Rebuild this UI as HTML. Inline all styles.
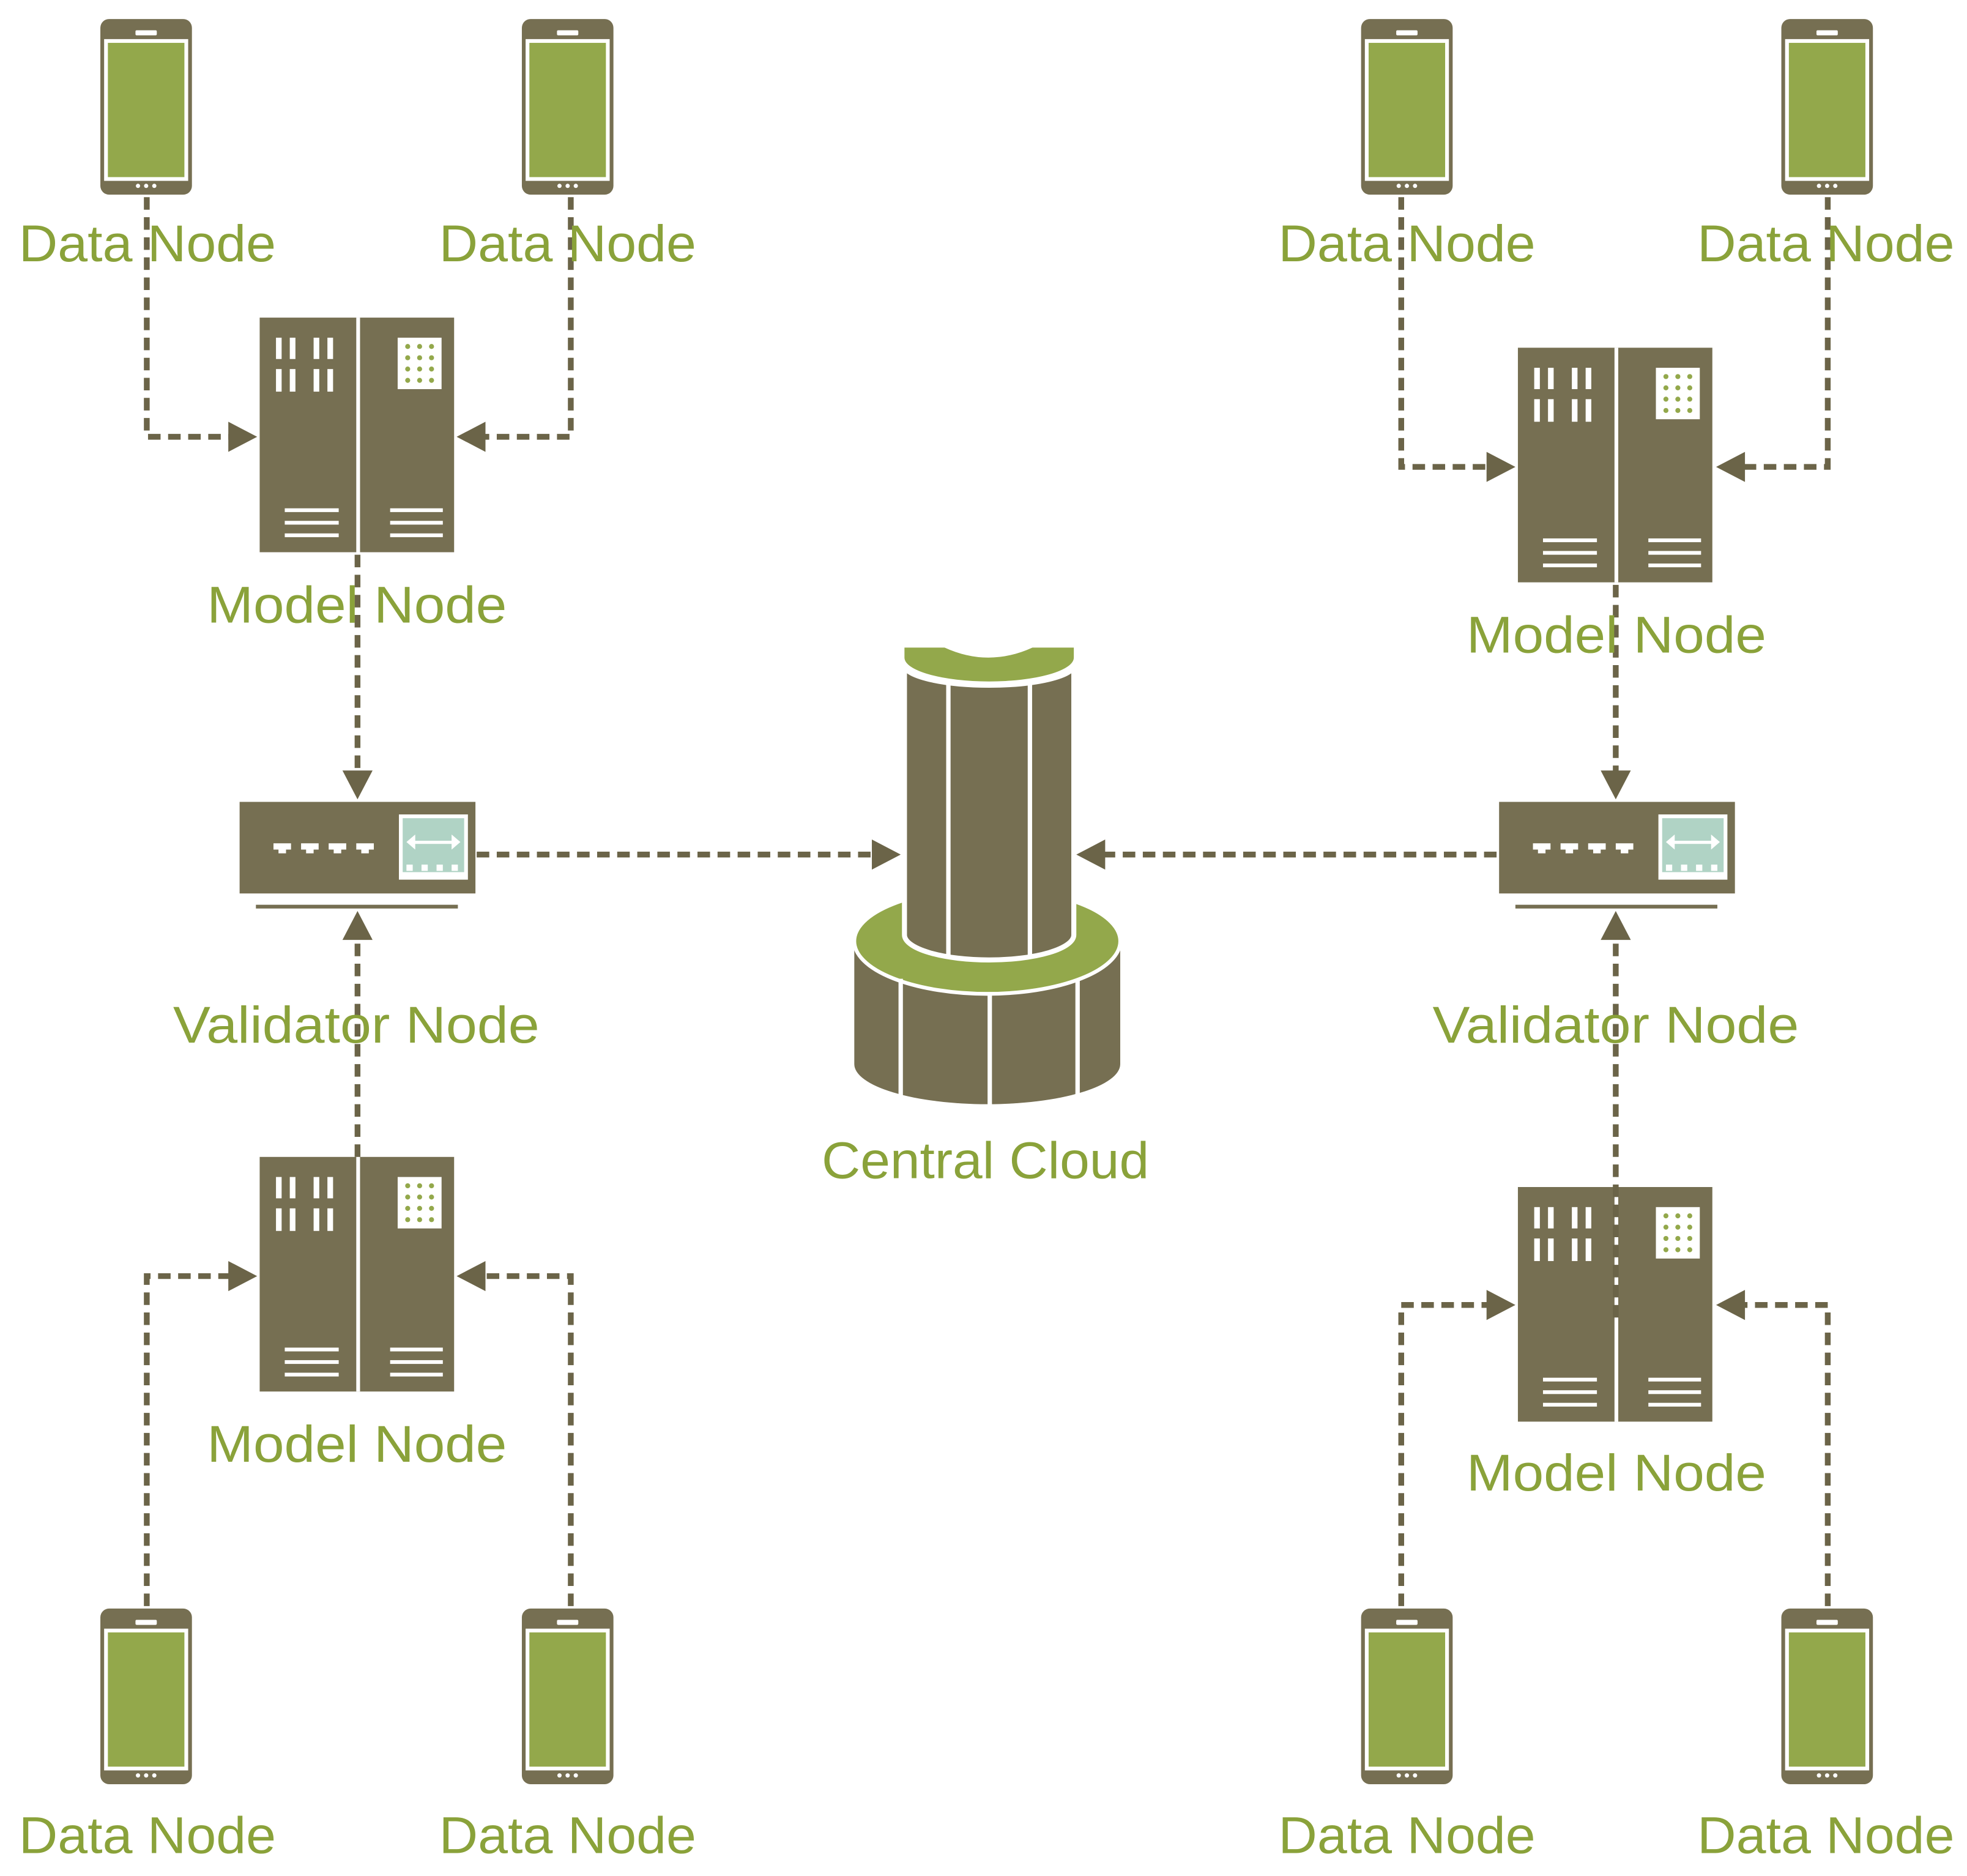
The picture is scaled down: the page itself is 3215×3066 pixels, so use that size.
<!DOCTYPE html>
<html><head><meta charset="utf-8"><style>
html,body{margin:0;padding:0;background:#fff;}
svg{display:block;}
text{font-family:"Liberation Sans",sans-serif;fill:#8aa23a;font-size:41px;}
</style></head><body>
<svg width="3215" height="3066" viewBox="0 0 1568 1495" xmlns="http://www.w3.org/2000/svg">
<defs>
<g id="phone">
<rect x="0" y="0" width="73" height="140" rx="7" fill="#766f52"/>
<rect x="3" y="16" width="67" height="113" fill="#fff"/>
<rect x="6" y="19" width="61" height="107" fill="#93a84b"/>
<rect x="28" y="9" width="17" height="4" rx="1" fill="#fff"/>
<circle cx="30" cy="133" r="1.7" fill="#fff"/><circle cx="36.5" cy="133" r="1.7" fill="#fff"/><circle cx="43" cy="133" r="1.7" fill="#fff"/>
</g>
<g id="server">
<rect x="0" y="0" width="155" height="187" fill="#766f52"/>
<rect x="77" y="0" width="3" height="187" fill="#fff"/>
<g fill="#fff">
<rect x="13" y="16" width="4.5" height="17"/><rect x="24" y="16" width="4.5" height="17"/><rect x="43" y="16" width="4.5" height="17"/><rect x="54" y="16" width="4.5" height="17"/>
<rect x="13" y="41" width="4.5" height="18"/><rect x="24" y="41" width="4.5" height="18"/><rect x="43" y="41" width="4.5" height="18"/><rect x="54" y="41" width="4.5" height="18"/>
<rect x="110" y="16" width="35" height="41"/>
<rect x="20" y="152" width="43" height="3"/><rect x="20" y="162" width="43" height="3"/><rect x="20" y="172" width="43" height="3"/>
<rect x="104" y="152" width="42" height="3"/><rect x="104" y="162" width="42" height="3"/><rect x="104" y="172" width="42" height="3"/>
</g>
<g fill="#93a84b">
<circle cx="118" cy="23" r="2"/><circle cx="127.5" cy="23" r="2"/><circle cx="137" cy="23" r="2"/>
<circle cx="118" cy="32" r="2"/><circle cx="127.5" cy="32" r="2"/><circle cx="137" cy="32" r="2"/>
<circle cx="118" cy="41" r="2"/><circle cx="127.5" cy="41" r="2"/><circle cx="137" cy="41" r="2"/>
<circle cx="118" cy="50" r="2"/><circle cx="127.5" cy="50" r="2"/><circle cx="137" cy="50" r="2"/>
</g>
</g>
<g id="validator">
<rect x="0" y="0" width="188" height="73" fill="#766f52"/>
<rect x="127" y="10" width="55" height="52" fill="#fff"/>
<rect x="130" y="13" width="49" height="43" fill="#b0d3c5"/>
<g fill="#fff">
<rect x="135" y="31" width="39" height="2.5"/>
<polygon points="133,32 140,26 140,38"/><polygon points="176,32 169,26 169,38"/>
<rect x="133" y="50" width="5" height="5"/><rect x="145" y="50" width="5" height="5"/><rect x="157" y="50" width="5" height="5"/><rect x="169" y="50" width="5" height="5"/>
<path d="M27,33 h14 v5 h-4 v3 h-6 v-3 h-4z"/><path d="M49,33 h14 v5 h-4 v3 h-6 v-3 h-4z"/><path d="M71,33 h14 v5 h-4 v3 h-6 v-3 h-4z"/><path d="M93,33 h14 v5 h-4 v3 h-6 v-3 h-4z"/>
</g>
<rect x="13" y="82" width="161" height="3" fill="#766f52"/>
</g>
</defs>

<use href="#phone" x="80" y="15"/><use href="#phone" x="416" y="15"/>
<use href="#phone" x="1085" y="15"/><use href="#phone" x="1420" y="15"/>
<use href="#phone" x="80" y="1282"/><use href="#phone" x="416" y="1282"/>
<use href="#phone" x="1085" y="1282"/><use href="#phone" x="1420" y="1282"/>

<use href="#server" x="207" y="253"/><use href="#server" x="1210" y="277"/>
<use href="#server" x="207" y="922"/><use href="#server" x="1210" y="946"/>

<use href="#validator" x="191" y="639"/><use href="#validator" x="1195" y="639"/>

<path d="M681,752 L681,848 A106,32 0 0 0 893,848 L893,752 Z" fill="#766f52"/>
<ellipse cx="787" cy="750" rx="106" ry="42" fill="#93a84b" stroke="#fff" stroke-width="3"/>
<g stroke="#fff" stroke-width="3.5">
<line x1="718" y1="780" x2="718" y2="874"/><line x1="789" y1="792" x2="789" y2="882"/><line x1="859" y1="780" x2="859" y2="874"/>
</g>
<path d="M721,530 L721,745 A67.5,20 0 0 0 856,745 L856,530 A67.5,16 0 0 1 721,530 Z" fill="#766f52" stroke="#fff" stroke-width="4"/>
<g stroke="#fff" stroke-width="3.5">
<line x1="756" y1="542" x2="756" y2="762"/><line x1="821" y1="542" x2="821" y2="762"/>
</g>
<path d="M721,516 L753,516 Q788,532 823,516 L856,516 L856,524 A67.5,19 0 0 1 721,524 Z" fill="#93a84b"/>

<g fill="none" stroke="#6b6448" stroke-width="4.6" stroke-dasharray="10 6">
<path d="M117,157 V348 H188"/>
<path d="M455,157 V348 H382"/>
<path d="M285,442 V618"/>
<path d="M380,681 H700"/>
<path d="M1193,681 H876"/>
<path d="M285,922 V744"/>
<path d="M117,1280 V1017 H188"/>
<path d="M455,1280 V1017 H382"/>
<path d="M1117,157 V372 H1191"/>
<path d="M1457,157 V372 H1386"/>
<path d="M1288,466 V618"/>
<path d="M1288,1050 V744"/>
<path d="M1117,1280 V1040 H1191"/>
<path d="M1457,1280 V1040 H1386"/>
</g>
<g fill="#6b6448">
<polygon points="205,348 182,336 182,360"/>
<polygon points="364,348 387,336 387,360"/>
<polygon points="285,637 273,614 297,614"/>
<polygon points="718,681 695,669 695,693"/>
<polygon points="858,681 881,669 881,693"/>
<polygon points="285,726 273,749 297,749"/>
<polygon points="205,1017 182,1005 182,1029"/>
<polygon points="364,1017 387,1005 387,1029"/>
<polygon points="1208,372 1185,360 1185,384"/>
<polygon points="1368,372 1391,360 1391,384"/>
<polygon points="1288,637 1276,614 1300,614"/>
<polygon points="1288,726 1276,749 1300,749"/>
<polygon points="1208,1040 1185,1028 1185,1052"/>
<polygon points="1368,1040 1391,1028 1391,1052"/>
</g>

<text x="15" y="208" textLength="205" lengthAdjust="spacingAndGlyphs">Data Node</text>
<text x="350" y="208" textLength="205" lengthAdjust="spacingAndGlyphs">Data Node</text>
<text x="1019" y="208" textLength="205" lengthAdjust="spacingAndGlyphs">Data Node</text>
<text x="1353" y="208" textLength="205" lengthAdjust="spacingAndGlyphs">Data Node</text>
<text x="15" y="1477" textLength="205" lengthAdjust="spacingAndGlyphs">Data Node</text>
<text x="350" y="1477" textLength="205" lengthAdjust="spacingAndGlyphs">Data Node</text>
<text x="1019" y="1477" textLength="205" lengthAdjust="spacingAndGlyphs">Data Node</text>
<text x="1353" y="1477" textLength="205" lengthAdjust="spacingAndGlyphs">Data Node</text>
<text x="165" y="496" textLength="239" lengthAdjust="spacingAndGlyphs">Model Node</text>
<text x="1169" y="520" textLength="239" lengthAdjust="spacingAndGlyphs">Model Node</text>
<text x="165" y="1165" textLength="239" lengthAdjust="spacingAndGlyphs">Model Node</text>
<text x="1169" y="1188" textLength="239" lengthAdjust="spacingAndGlyphs">Model Node</text>
<text x="138" y="831" textLength="292" lengthAdjust="spacingAndGlyphs">Validator Node</text>
<text x="1142" y="831" textLength="292" lengthAdjust="spacingAndGlyphs">Validator Node</text>
<text x="655" y="939" textLength="261" lengthAdjust="spacingAndGlyphs">Central Cloud</text>
</svg>
</body></html>
